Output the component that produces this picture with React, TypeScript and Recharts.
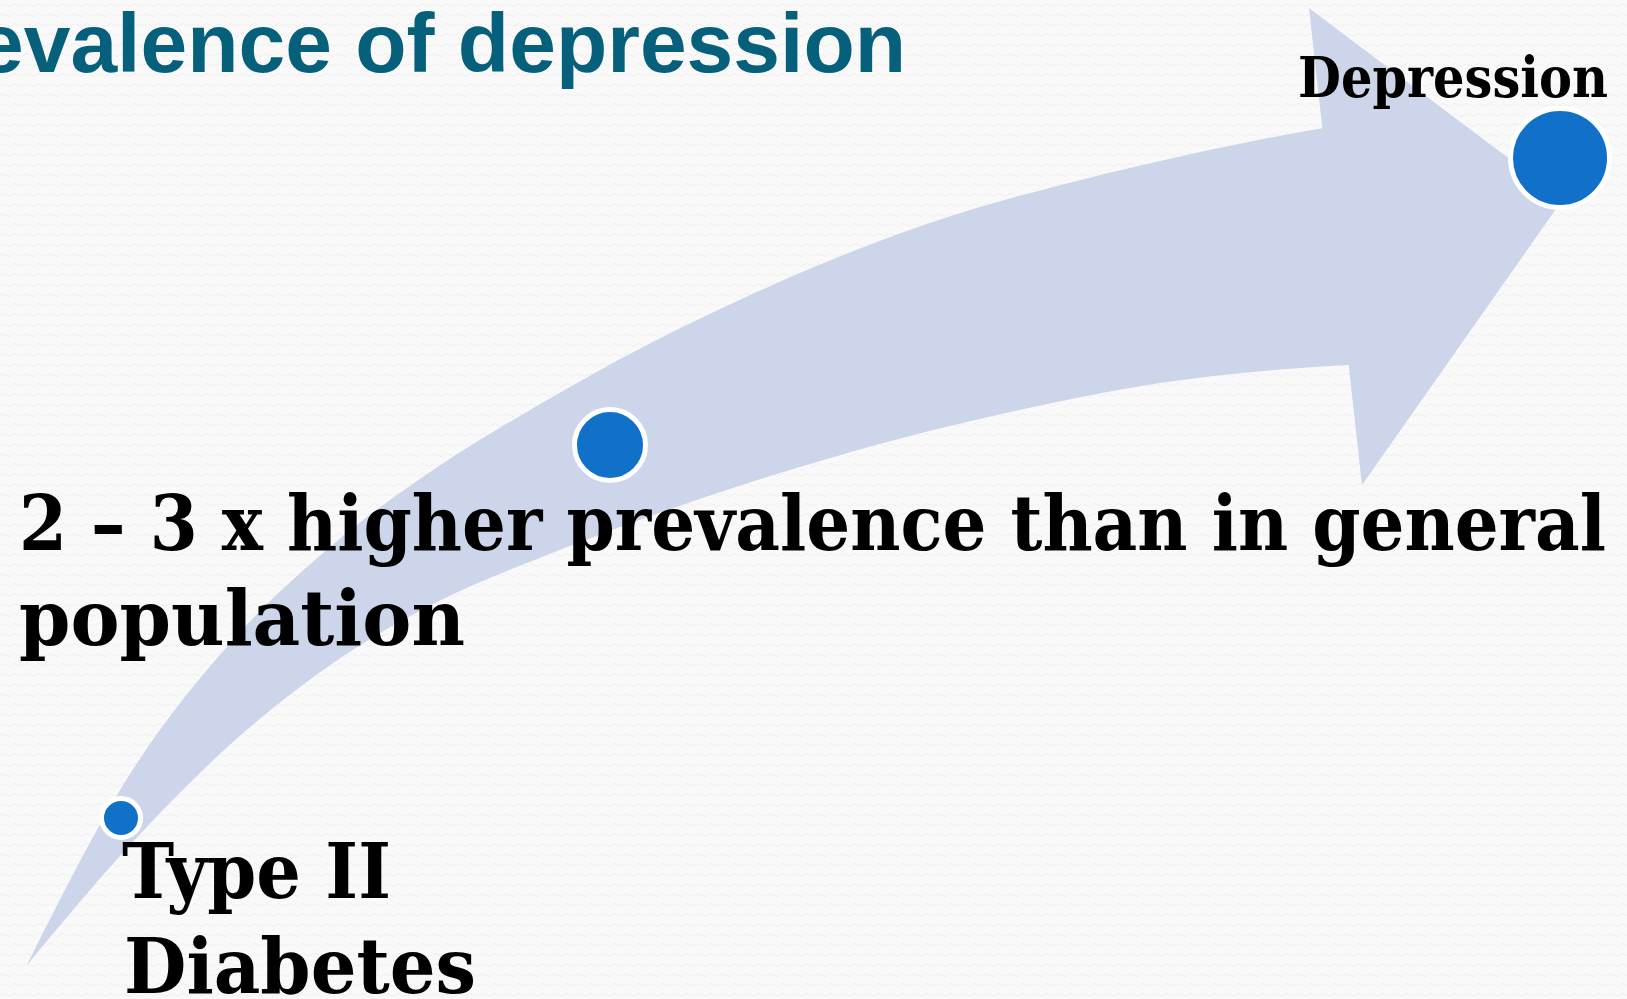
import React from 'react';
import { ComposedChart, Area, Scatter, XAxis, YAxis } from 'recharts';

// Canvas is treated 1:1 — axis units are pixels of the 1627x999 slide
const WIDTH = 1627;
const HEIGHT = 999;

// curved arrow body: upper and lower edge at evenly spaced x
const edgeX = [27, 130, 233, 336, 439, 542, 645, 748, 851, 954, 1057, 1160, 1263, 1366];
const upperEdge = [965, 774, 640, 542, 466, 403, 346, 296, 252, 215, 186, 161, 139, 121];
const lowerEdge = [965, 845, 742, 661, 601, 557, 518, 483, 452, 425, 402, 383, 371, 364];

// arrow head (triangle)
const headX = [1309, 1362, 1563];
const headTop = [8, 48, 199];
const headBottom = [8, 485, 199];

// milestone dots along the arrow
const stageNames = ['Type II Diabetes', '2 – 3 x higher prevalence', 'Depression'];
const stageX = [121, 610, 1560];
const stageY = [818, 445, 158];
const stageR = [17, 33, 47];

const title = 'Prevalence of depression';
const labelLines = [
    { text: 'Depression', x: 1298, y: 97, size: 56, len: 310 },
    { text: '2 – 3 x higher prevalence than in general', x: 19, y: 550, size: 76, len: 1587 },
    { text: 'population', x: 19, y: 645, size: 76, len: 446 },
    { text: 'Type II', x: 122, y: 898, size: 76, len: 269 },
    { text: 'Diabetes', x: 124, y: 993, size: 76, len: 352 },
];

const bodyData = edgeX.map((x, i) => ({ x, band: [upperEdge[i], lowerEdge[i]] }));
const headData = headX.map((x, i) => ({ x, band: [headTop[i], headBottom[i]] }));
const stageData = stageX.map((x, i) => ({ name: stageNames[i], x, y: stageY[i], r: stageR[i] }));

const ARROW = '#ccd5e9';
const DOT = '#1170c7';

const bgPattern =
    "url(\"data:image/svg+xml;utf8,<svg xmlns='http://www.w3.org/2000/svg' width='12' height='10'><path d='M0 5 Q3 2 6 5 T12 5' fill='none' stroke='%23eeeeee' stroke-width='1'/></svg>\")";

const Dot = (props: any) => {
    const { cx, cy, payload } = props;
    return <circle cx={cx} cy={cy} r={payload.r + 2.5} fill={DOT} stroke="#ffffff" strokeWidth={5} />;
};

// text sits above the arrow, so it goes in its own layer over the chart
const TextLayer = () => (
    <svg
        width={WIDTH}
        height={HEIGHT}
        style={{ position: 'absolute', left: 0, top: 0, pointerEvents: 'none' }}
    >
        <text
            x={906}
            y={72}
            textAnchor="end"
            fontFamily="'Liberation Sans', Arial, sans-serif"
            fontWeight={700}
            fontSize={84}
            fill="#07607b"
        >
            {title}
        </text>
        {labelLines.map(l => (
            <text
                key={l.text}
                x={l.x}
                y={l.y}
                textLength={l.len}
                lengthAdjust="spacingAndGlyphs"
                fontFamily="'DejaVu Serif', 'Liberation Serif', serif"
                fontWeight={700}
                fontSize={l.size}
                fill="#000000"
            >
                {l.text}
            </text>
        ))}
    </svg>
);

export default function App() {
    return (
        <div
            style={{
                position: 'fixed',
                left: 0,
                top: 0,
                width: WIDTH,
                height: HEIGHT,
                overflow: 'hidden',
                backgroundColor: '#f9f9f9',
                backgroundImage: bgPattern,
            }}
        >
            <ComposedChart width={WIDTH} height={HEIGHT} margin={{ top: 0, right: 0, bottom: 0, left: 0 }}>
                <XAxis type="number" dataKey="x" domain={[0, WIDTH]} hide allowDataOverflow />
                <YAxis type="number" domain={[0, HEIGHT]} reversed hide allowDataOverflow />
                <Area
                    data={bodyData}
                    dataKey="band"
                    type="monotone"
                    stroke="none"
                    fill={ARROW}
                    fillOpacity={1}
                    dot={false}
                    activeDot={false}
                    isAnimationActive={false}
                />
                <Area
                    data={headData}
                    dataKey="band"
                    type="linear"
                    stroke="none"
                    fill={ARROW}
                    fillOpacity={1}
                    dot={false}
                    activeDot={false}
                    isAnimationActive={false}
                />
                <Scatter data={stageData} dataKey="y" shape={Dot} isAnimationActive={false} />
            </ComposedChart>
            <TextLayer />
        </div>
    );
}
